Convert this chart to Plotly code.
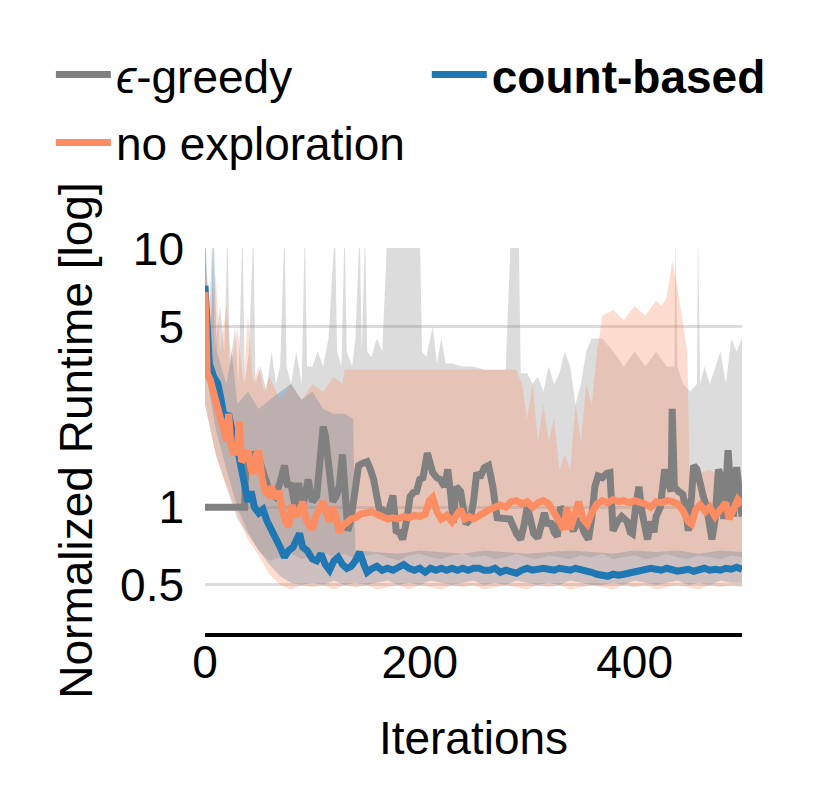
import plotly.graph_objects as go

# ---------------- data ----------------
# count-based (blue) mean
cb_iter = [0, 2, 4, 8, 12, 15, 18, 22, 26, 30, 33, 36, 40, 43, 46, 50, 54, 58, 62, 66, 70, 74, 78, 82, 86, 88, 91, 95,
           100, 104, 108, 112, 116, 120, 124, 128, 132, 136, 140, 144, 148, 151, 156, 160, 165, 170, 175, 180, 185, 190,
           195, 200, 205, 210, 215, 220, 225, 230, 235, 240, 245, 250, 255, 260, 265, 270, 275, 280, 285, 290, 295,
           300, 305, 310, 315, 320, 325, 330, 335, 340, 345, 350, 355, 360, 365, 370, 375, 380, 385, 390, 395, 400,
           405, 410, 415, 420, 425, 430, 435, 440, 445, 450, 455, 460, 465, 470, 475, 480, 485, 490, 495, 500]
cb_mean = [7.2, 5.0, 3.6, 3.2, 3.0, 2.6, 2.2, 2.3, 1.9, 1.7, 1.45, 1.3, 1.05, 1.15, 1.0, 0.95, 0.98, 0.88, 0.82, 0.76,
           0.70, 0.64, 0.68, 0.70, 0.76, 0.79, 0.70, 0.68, 0.63, 0.62, 0.66, 0.60, 0.57, 0.62, 0.64, 0.60, 0.58, 0.59,
           0.62, 0.67, 0.60, 0.56, 0.58, 0.59, 0.57, 0.58, 0.57, 0.58, 0.60, 0.58, 0.57, 0.58, 0.56, 0.58, 0.57, 0.58,
           0.57, 0.58, 0.57, 0.58, 0.57, 0.58, 0.58, 0.57, 0.57, 0.58, 0.56, 0.57, 0.56, 0.555, 0.57, 0.58, 0.57, 0.575,
           0.58, 0.575, 0.57, 0.58, 0.575, 0.57, 0.58, 0.575, 0.57, 0.56, 0.55, 0.545, 0.54, 0.55, 0.545, 0.55, 0.555,
           0.56, 0.565, 0.57, 0.58, 0.575, 0.57, 0.58, 0.57, 0.565, 0.57, 0.575, 0.565, 0.57, 0.58, 0.57, 0.575, 0.57,
           0.58, 0.575, 0.585, 0.575]

# no exploration (orange) mean
ne_iter = [0, 1, 2, 5, 8, 11, 14, 17, 20, 22, 24, 27, 30, 32, 34, 37, 40, 43, 45, 48, 50, 53, 56, 59, 62, 65, 69, 72,
           75, 78, 81, 84, 87, 91, 94, 97, 100, 103, 106, 110, 113, 116, 119, 122, 125, 128, 132, 136, 140, 145, 150,
           155, 160, 165, 170, 175, 180, 185, 190, 195, 200, 205, 209, 212, 216, 220, 225, 230, 235, 238, 242, 246,
           250, 255, 260, 265, 270, 275, 280, 285, 290, 295, 300, 305, 310, 315, 320, 325, 330, 334, 337, 340, 344,
           348, 352, 356, 360, 365, 370, 375, 380, 385, 390, 395, 400, 405, 410, 415, 420, 425, 430, 435, 440, 445,
           450, 453, 457, 461, 466, 470, 475, 480, 485, 488, 492, 496, 500]
ne_mean = [6.8, 4.5, 3.3, 3.1, 2.8, 2.5, 2.2, 2.0, 1.8, 2.3, 1.75, 1.6, 1.7, 2.15, 1.5, 1.55, 1.65, 1.4, 1.35, 1.6, 1.65,
           1.3, 1.15, 1.12, 1.2, 1.08, 1.15, 0.98, 0.88, 0.84, 1.02, 0.92, 0.95, 1.05, 0.9, 0.85, 0.82, 0.92, 0.98, 1.05,
           0.95, 0.88, 1.0, 0.92, 0.8, 0.85, 0.87, 0.9, 0.91, 0.94, 0.95, 0.96, 0.94, 0.92, 0.9, 0.91, 0.9, 0.92, 0.91,
           0.93, 0.92, 0.94, 1.06, 1.09, 0.96, 0.9, 0.93, 0.88, 0.96, 0.98, 0.9, 0.92, 0.9, 0.93, 0.96, 0.98, 1.0, 1.02,
           1.0, 1.05, 1.06, 1.03, 1.05, 1.0, 1.04, 1.06, 1.03, 0.96, 0.88, 0.82, 1.0, 0.82, 0.95, 1.05, 0.9, 0.86, 0.95,
           1.03, 1.06, 1.04, 1.07, 1.05, 1.06, 1.04, 1.06, 1.05, 1.03, 1.0, 1.05, 1.04, 1.06, 1.05, 1.03, 0.97, 0.88,
           0.86, 0.98, 1.02, 0.96, 1.0, 0.92, 0.98, 1.04, 0.9, 1.0, 1.07, 1.02]

# epsilon-greedy (gray) mean
eg_iter = [0, 37, 38, 45, 50, 55, 60, 65, 70, 74, 77, 80, 84, 87, 91, 96, 100, 104, 107, 110, 112, 114, 117, 119, 122,
           125, 128, 130, 133, 136, 140, 143, 147, 151, 154, 157, 160, 163, 166, 170, 175, 178, 181, 184, 188, 191, 194,
           197, 200, 203, 207, 210, 212, 216, 219, 223, 226, 229, 231, 234, 238, 243, 247, 250, 253, 256, 260, 264, 268,
           272, 278, 284, 290, 294, 297, 300, 303, 306, 310, 313, 316, 319, 322, 325, 328, 331, 335, 339, 343, 346, 349,
           353, 357, 360, 363, 366, 370, 374, 377, 380, 384, 388, 393, 396, 398, 401, 404, 407, 410, 412, 415, 418, 420,
           424, 428, 431, 434, 435, 437, 441, 445, 448, 450, 453, 455, 458, 461, 464, 467, 470, 472, 475, 478, 481, 483,
           485, 487, 490, 492, 495, 497, 500]
eg_mean = [1.0, 1.0, 1.55, 1.6, 1.55, 1.3, 1.15, 1.1, 1.25, 1.45, 1.2, 1.24, 1.0, 1.24, 1.0, 1.28, 1.05, 1.1, 1.6, 2.05,
           1.9, 1.63, 1.3, 1.05, 1.1, 1.2, 1.6, 1.3, 0.81, 0.9, 1.24, 1.45, 1.48, 1.5, 1.4, 1.28, 1.1, 0.95, 0.97, 0.93,
           1.11, 0.81, 0.8, 0.75, 0.9, 1.1, 1.14, 1.15, 1.28, 1.3, 1.62, 1.45, 1.36, 1.3, 1.28, 1.2, 1.4, 1.1, 0.87, 1.2,
           1.15, 0.86, 0.9, 1.05, 1.36, 1.3, 1.42, 1.45, 1.2, 0.91, 0.91, 0.9, 0.79, 0.75, 0.85, 1.0, 0.9, 0.79, 0.76,
           0.85, 0.95, 0.85, 0.88, 0.8, 0.77, 1.0, 0.95, 0.87, 0.81, 0.87, 0.89, 0.8, 0.75, 0.9, 1.2, 1.32, 1.3, 1.35,
           1.36, 0.81, 0.88, 0.92, 0.88, 0.8, 0.79, 1.0, 1.2, 0.95, 0.8, 0.75, 0.88, 0.8, 0.92, 1.0, 1.4, 1.25, 1.15, 2.4,
           1.2, 1.15, 1.12, 0.95, 0.81, 1.1, 1.45, 1.4, 1.2, 1.1, 1.0, 0.85, 0.75, 0.9, 1.4, 1.3, 0.9, 1.2, 1.66, 1.1,
           0.92, 1.43, 1.2, 0.92]

# spread bands: upper edges (read at irregular iterations to keep the spikes)
eg_hi_iter = [0, 3, 7, 9, 14, 18, 21, 23, 28, 31, 35, 37, 41, 45, 47, 52, 57, 62, 66, 70, 74, 76, 80, 85, 90, 93, 95,
              100, 105, 110, 115, 121, 123, 127, 130, 132, 137, 140, 144, 146, 149, 151, 155, 160, 165, 170, 200, 202,
              206, 212, 216, 220, 224, 230, 240, 250, 260, 270, 280, 285, 292, 294, 300, 305, 310, 315, 320, 325, 330,
              335, 340, 345, 350, 355, 360, 370, 380, 390, 400, 410, 420, 430, 437, 438, 440, 445, 452, 458, 459, 461,
              465, 470, 475, 480, 485, 490, 495, 500]
eg_hi = [12, 4, 12, 4, 6, 4, 12, 3.5, 5, 3, 12, 3, 4, 12, 3, 3.5, 2.8, 4, 3, 3.5, 12, 3.5, 3, 4, 3, 12, 3.5,
         3.5, 4, 3.5, 4.5, 12, 4, 3.5, 12, 4, 3.5, 4.5, 12, 4, 12, 4, 3.8, 4.5, 4, 12, 12, 4,
         3.8, 5, 3.6, 4.5, 3.6, 3.6, 3.5, 3.5, 3.4, 3.4, 3.4, 12, 12, 3.3, 3.3, 3.0, 3.2, 2.8, 3.5, 3.0, 3.3,
         4.0, 3.5, 2.5, 3.0, 4.0, 4.5, 4.5, 4, 3.5, 4, 3.5, 4, 3.5, 3.5, 12, 3.5, 3.0, 2.8, 3, 12, 3,
         3.5, 3.0, 3.5, 4, 3, 4.5, 4, 4.5]
ne_hi_iter = [0, 5, 10, 14, 20, 25, 30, 36, 40, 45, 50, 55, 60, 70, 80, 90, 100, 110, 120, 128, 130, 290, 295, 300,
              305, 310, 315, 320, 325, 330, 335, 340, 345, 350, 355, 360, 365, 370, 380, 390, 400, 410, 420, 425, 430,
              435, 440, 445, 449, 451, 460, 470, 480, 490, 500]
ne_hi = [10, 5, 8, 4, 6, 3.5, 5, 3, 5.5, 3, 3.5, 2.8, 3.2, 2.6, 3, 2.6, 3, 2.8, 3.2, 3.0, 3.4, 3.4, 3.0, 2.2,
         3.0, 1.8, 2.5, 1.8, 2.2, 1.4, 1.6, 1.4, 2.5, 1.8, 3.0, 2.5, 4, 5.5, 5.8, 5.3, 6.0, 5.5, 6.3, 6.0, 6.5,
         9, 7.0, 5, 4, 1.4, 1.35, 1.4, 1.3, 1.35, 1.3]
cb_hi_iter = [0, 5, 8, 11, 15, 20, 25, 30, 40, 50, 60, 70, 80, 90, 100, 110, 120, 130, 138, 140, 160, 180, 200, 220,
              240, 260, 280, 300, 320, 340, 360, 380, 400, 420, 440, 460, 480, 500]
cb_hi = [12, 4, 12, 4, 3.5, 3, 4, 2.5, 2.8, 2.4, 2.6, 2.8, 3.0, 2.6, 2.8, 2.4, 2.3, 2.3, 2.2, 0.68, 0.67, 0.66, 0.68,
         0.67, 0.66, 0.68, 0.67, 0.66, 0.67, 0.68, 0.67, 0.66, 0.68, 0.67, 0.68, 0.66, 0.68, 0.67]

# spread bands: lower edges (every 10 iterations)
band_iter = list(range(0, 501, 10))
eg_lo = [2.5, 1.6, 1.2, 0.9, 0.78, 0.68, 0.62, 0.64, 0.66, 0.63, 0.65, 0.67, 0.64, 0.66, 0.63, 0.65, 0.66, 0.64,
         0.62, 0.65, 0.66, 0.64, 0.63, 0.65, 0.66, 0.64, 0.65, 0.63, 0.64, 0.66, 0.64, 0.63, 0.65, 0.64, 0.63, 0.65,
         0.64, 0.66, 0.63, 0.64, 0.65, 0.63, 0.64, 0.66, 0.64, 0.63, 0.65, 0.64, 0.63, 0.65, 0.64]
ne_lo = [2.5, 1.6, 1.2, 0.95, 0.75, 0.65, 0.55, 0.5, 0.48, 0.5, 0.49, 0.5, 0.48, 0.5, 0.49, 0.5, 0.48, 0.49, 0.5,
         0.48, 0.5, 0.49, 0.48, 0.5, 0.49, 0.5, 0.48, 0.49, 0.5, 0.49, 0.48, 0.5, 0.49, 0.5, 0.48, 0.49, 0.5, 0.49,
         0.48, 0.5, 0.49, 0.5, 0.48, 0.49, 0.5, 0.49, 0.48, 0.5, 0.49, 0.5, 0.49]
cb_lo = [3.5, 2.0, 1.4, 1.0, 0.8, 0.68, 0.6, 0.54, 0.51, 0.5, 0.51, 0.5, 0.52, 0.5, 0.51, 0.5, 0.51, 0.52, 0.5, 0.51,
         0.5, 0.52, 0.51, 0.5, 0.51, 0.52, 0.5, 0.51, 0.5, 0.52, 0.51, 0.5, 0.51, 0.5, 0.52, 0.51, 0.5, 0.5, 0.51,
         0.5, 0.52, 0.51, 0.5, 0.51, 0.52, 0.5, 0.51, 0.5, 0.52, 0.51, 0.51]

y_ticks = [0.5, 1, 5, 10]
y_ticklabels = ["0.5", "1", "5", "10"]
x_ticks = [0, 200, 400]

names = ["<i>ϵ</i>-greedy", "<b>count-based</b>", "no exploration"]
legend_ids = ["legend", "legend2", "legend"]
groups = ["eg", "cb", "ne"]
colors = ["#808080", "#1f77b4", "#fc8d62"]
fills = ["rgba(128,128,128,0.28)", "rgba(31,119,180,0.3)", "rgba(252,141,98,0.3)"]

series = [
    (eg_iter, eg_mean, eg_hi_iter, eg_hi, eg_lo),
    (cb_iter, cb_mean, cb_hi_iter, cb_hi, cb_lo),
    (ne_iter, ne_mean, ne_hi_iter, ne_hi, ne_lo),
]

FONT = "Liberation Sans, Arial, sans-serif"
FS = 46
FS_TITLE = 46
fig = go.Figure()

# bands: polygon = upper edge forward + lower edge backward
for (it, m, hit, hi, lo), fc in zip(series, fills):
    xs = list(hit) + band_iter[::-1]
    ys = list(hi) + lo[::-1]
    fig.add_trace(go.Scatter(x=xs, y=ys, mode="lines", line=dict(width=0), fill="toself",
                             fillcolor=fc, showlegend=False, hoverinfo="skip"))

for (it, m, hit, hi, lo), nm, c, lg, g in zip(series, names, colors, legend_ids, groups):
    fig.add_trace(go.Scatter(x=it, y=m, mode="lines", name=nm, line=dict(color=c, width=7),
                             legend=lg, legendgroup=g))

leg_common = dict(orientation="v", xanchor="left", yanchor="top",
                  font=dict(size=FS, family=FONT), bgcolor="rgba(0,0,0,0)", itemwidth=55,
                  traceorder="grouped", tracegroupgap=5)
fig.update_layout(
    width=821, height=797,
    margin=dict(l=197, r=87, t=240, b=172),
    paper_bgcolor="white", plot_bgcolor="white",
    font=dict(family=FONT, size=FS, color="black"),
    legend=dict(x=-0.287, y=1.545, **leg_common),
    legend2=dict(x=0.413, y=1.545, **leg_common),
    showlegend=True,
)
fig.update_xaxes(range=[0, 500], tickvals=x_ticks, showgrid=False, zeroline=False, automargin=False,
                 showline=True, linecolor="black", linewidth=4, ticks="", ticklabelstandoff=-14,
                 title=dict(text="Iterations", standoff=36, font=dict(size=FS_TITLE)), tickfont=dict(size=FS))
fig.update_yaxes(type="log", range=[-0.487, 1.003], tickvals=y_ticks, ticktext=y_ticklabels, automargin=False,
                 showgrid=True, gridcolor="#dcdcdc", gridwidth=3, zeroline=False, showline=False,
                 ticks="", ticklabelstandoff=20,
                 title=dict(text="Normalized Runtime [log]", standoff=12, font=dict(size=FS_TITLE)),
                 tickfont=dict(size=FS))

fig.write_html("out.html")
